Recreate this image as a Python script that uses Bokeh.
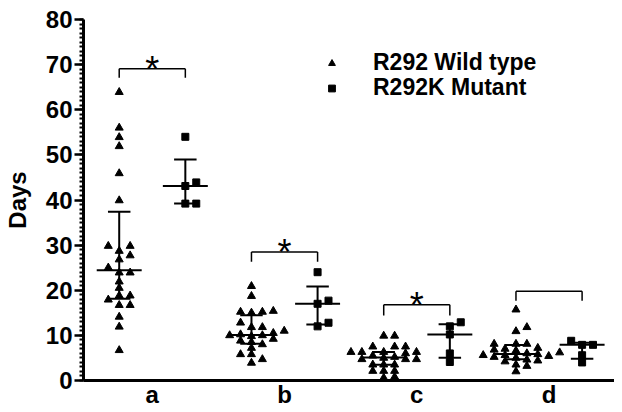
import numpy as np
from bokeh.plotting import figure
from bokeh.models import Range1d, FixedTicker, Legend, LegendItem
from bokeh.core.properties import value
from bokeh.embed import file_html
from bokeh.resources import INLINE

# ---------------- data ----------------
categories = ["a", "b", "c", "d"]
series_names = ["R292 Wild type", "R292K Mutant"]

wt_a = [63.9, 56.0, 53.9, 51.9, 45.9, 39.9, 29.8, 29.8, 28.7, 27.7, 26.8, 25.0,
        23.9, 23.9, 21.9, 20.5, 18.8, 18.8, 17.9, 16.7, 16.7, 14.1, 11.9, 6.7]
wt_b = [20.9, 18.7, 15.4, 15.2, 15.2, 15.0, 12.8, 11.8, 11.8, 11.0, 10.5, 10.2,
        10.0, 10.0, 9.8, 9.2, 8.8, 8.5, 8.0, 7.2, 5.8, 5.8, 4.7, 3.9]
wt_c = [9.9, 9.9, 7.5, 7.5, 7.5, 6.3, 6.3, 6.3, 6.3, 6.0, 5.5, 5.2,
        5.0, 4.7, 4.7, 4.7, 3.5, 3.5, 3.5, 2.1, 2.1, 2.1, 0.8, 0.6]
wt_d = [15.7, 11.8, 10.9, 8.1, 8.1, 8.1, 7.2, 7.0, 6.8, 6.6, 6.2, 6.0,
        5.8, 5.6, 5.6, 5.4, 5.2, 5.0, 4.6, 4.4, 4.2, 3.5, 3.2, 2.0]

mut_a = [54.0, 43.9, 43.1, 39.2, 39.2]
mut_b = [24.0, 17.7, 17.0, 12.8, 12.0]
mut_c = [12.9, 12.0, 10.2, 6.0, 4.1]
mut_d = [8.8, 7.9, 7.9, 5.6, 4.0]

bracket_top = [69.1, 28.5, 16.8, 19.8]
bracket_drop = [67.1, 26.3, 14.4, 17.7]
bracket_mark = ["*", "*", "*", ""]

y_ticks = [0, 10, 20, 30, 40, 50, 60, 70, 80]

# ---------------- layout ----------------
W, H = 614, 411
BL, BR, BT, BB = 79, 0, 19, 31
X0, X1 = 0.48, 4.495
Y0, Y1 = 0, 80
FW, FH = W - BL - BR, H - BT - BB
PX_X = FW / (X1 - X0)
PX_Y = FH / (Y1 - Y0)
SHIFT = 0.25
FONT = "Liberation Sans"


def swarm(vals, step=5.5, wlim=8.0, hlim=5.5):
    vals = np.asarray(vals, dtype=float)
    order = np.argsort(vals, kind="stable")
    cands = [0.0]
    for k in range(1, 14):
        cands += [k * step, -k * step]
    placed = []
    offs = np.zeros(len(vals))
    for i in order:
        yy = vals[i] * PX_Y
        for c in cands:
            if all(abs(c - ox) >= wlim or abs(yy - oy) >= hlim for ox, oy in placed):
                offs[i] = c
                placed.append((c, yy))
                break
    return offs / PX_X


p = figure(width=W, height=H, x_range=Range1d(X0, X1), y_range=Range1d(Y0, Y1),
           output_backend="svg", toolbar_location=None,
           min_border_left=BL, min_border_right=BR, min_border_top=BT, min_border_bottom=BB)
p.outline_line_color = None
p.xgrid.grid_line_color = None
p.ygrid.grid_line_color = None
p.background_fill_color = "white"
p.border_fill_color = "white"

groups_wt = [wt_a, wt_b, wt_c, wt_d]
groups_mut = [mut_a, mut_b, mut_c, mut_d]

renderers = []
for gi, (groups, marker, size) in enumerate([(groups_wt, "triangle", 8), (groups_mut, "square", 7)]):
    xs, ys = [], []
    sx0, sx1, sy0, sy1 = [], [], [], []
    for ci, vals in enumerate(groups):
        center = ci + 1 + (-SHIFT if gi == 0 else SHIFT)
        offs = swarm(vals)
        xs += list(center + offs)
        ys += list(vals)
        q1, med, q3 = np.percentile(vals, [25, 50, 75], method="weibull")
        sx0.append(center - 0.17); sx1.append(center + 0.17); sy0.append(med); sy1.append(med)
        for q in (q1, q3):
            sx0.append(center - 0.085); sx1.append(center + 0.085); sy0.append(q); sy1.append(q)
        sx0.append(center); sx1.append(center); sy0.append(q1); sy1.append(q3)
    r = p.scatter(xs, ys, marker=marker, size=size, fill_color="black",
                  line_color="black", line_width=1)
    renderers.append(r)
    p.segment(sx0, sy0, sx1, sy1, line_color="black", line_width=2)

# brackets
cx = np.arange(1, len(categories) + 1)
left = list(cx - SHIFT)
right = list(cx + SHIFT)
bx0 = left + left + right
bx1 = right + left + right
by0 = bracket_top * 3
by1 = bracket_top + bracket_drop + bracket_drop
p.segment(bx0, by0, bx1, by1, line_color="black", line_width=1.5)
p.text(x=list(cx), y=bracket_top, text=bracket_mark, text_font=value(FONT),
       text_font_size="36px", text_align="center", text_baseline="alphabetic",
       y_offset=1, text_color="black")

# axes
p.yaxis.ticker = FixedTicker(ticks=y_ticks, minor_ticks=list(range(0, 81)))
p.yaxis.axis_label = "Days"
p.yaxis.axis_label_text_font = FONT
p.yaxis.axis_label_text_font_style = "bold"
p.yaxis.axis_label_text_font_size = "24px"
p.yaxis.axis_label_text_color = "black"
p.yaxis.axis_label_standoff = 12
p.yaxis.major_label_text_font = FONT
p.yaxis.major_label_text_font_style = "bold"
p.yaxis.major_label_text_font_size = "24px"
p.yaxis.major_label_text_color = "black"
p.yaxis.major_label_standoff = 2
p.yaxis.axis_line_width = 3
p.yaxis.major_tick_line_width = 2.5
p.yaxis.minor_tick_line_width = 2
p.yaxis.major_tick_out = 9
p.yaxis.major_tick_in = 0
p.yaxis.minor_tick_out = 4
p.yaxis.minor_tick_in = 0

p.xaxis.ticker = FixedTicker(ticks=list(cx))
p.xaxis.major_label_overrides = {int(i + 1): c for i, c in enumerate(categories)}
p.xaxis.major_label_text_font = FONT
p.xaxis.major_label_text_font_style = "bold"
p.xaxis.major_label_text_font_size = "24px"
p.xaxis.major_label_text_color = "black"
p.xaxis.major_label_standoff = 0
p.xaxis.axis_line_width = 3
p.xaxis.major_tick_out = 0
p.xaxis.major_tick_in = 0
p.xaxis.minor_tick_out = 0
p.xaxis.minor_tick_in = 0

legend_style = dict(border_line_color=None, background_fill_alpha=0,
                    label_text_font=FONT, label_text_font_style="bold",
                    label_text_font_size="23px", label_text_color="black",
                    glyph_width=17, glyph_height=20, label_height=20,
                    label_standoff=33, spacing=0, padding=0, margin=0)
for k, vy in enumerate([304, 279]):
    lg = Legend(items=[LegendItem(label=series_names[k], renderers=[renderers[k]])],
                location=(240, vy), **legend_style)
    p.add_layout(lg)

open("out.html", "w").write(file_html(p, INLINE))
